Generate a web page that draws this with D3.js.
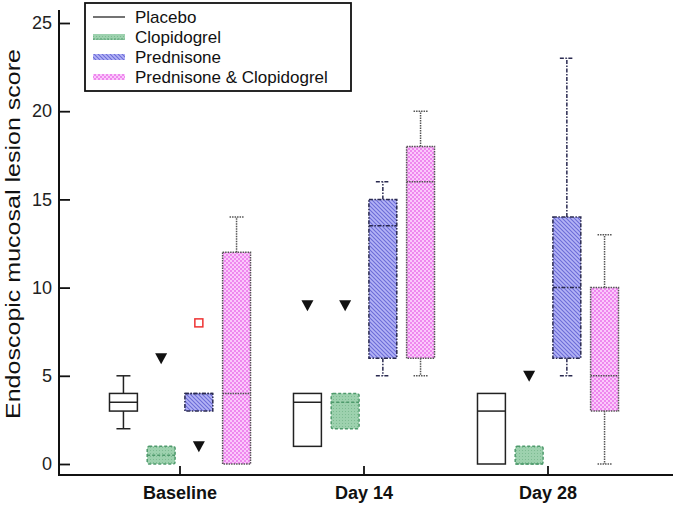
<!DOCTYPE html>
<html>
<head>
<meta charset="utf-8">
<script src="https://cdn.jsdelivr.net/npm/d3@7"></script>
<style>
  body { margin: 0; background: #fff; }
  svg { font-family: Arial, "Liberation Sans", sans-serif; }
</style>
</head>
<body>
<div id="chart"></div>
<script>
// categories
const groups = ['Baseline', 'Day 14', 'Day 28'];
const treatments = ['Placebo', 'Clopidogrel', 'Prednisone', 'Prednisone & Clopidogrel'];
const yTicks = [0, 5, 10, 15, 20, 25];

// [min, q1, median, q3, max] per group
const placebo = [[2, 3, 3.5, 4, 5], [1, 1, 3.5, 4, 4], [0, 0, 3, 4, 4]];
const clopidogrel = [[0, 0, 0.5, 1, 1], [2, 2, 3.5, 4, 4], [0, 0, 0, 1, 1]];
const prednisone = [[3, 3, 4, 4, 4], [5, 6, 13.5, 15, 16], [5, 6, 10, 14, 23]];
const predClop = [[0, 0, 4, 12, 14], [5, 6, 16, 18, 20], [0, 3, 5, 10, 13]];

// outliers: group, treatment index, value, marker
const outliers = [
  { g: 'Baseline', t: 1, v: 6, kind: 'tri' },
  { g: 'Baseline', t: 2, v: 1, kind: 'tri' },
  { g: 'Baseline', t: 2, v: 8, kind: 'sq' },
  { g: 'Day 14', t: 0, v: 9, kind: 'tri' },
  { g: 'Day 14', t: 1, v: 9, kind: 'tri' },
  { g: 'Day 28', t: 1, v: 5, kind: 'tri' }
];

const W = 673, H = 506;
const svg = d3.select('#chart').append('svg').attr('width', W).attr('height', H);

///////// Patterns //////////
const defs = svg.append('defs');
const pGreen = defs.append('pattern').attr('id', 'pat-green')
  .attr('width', 3).attr('height', 3).attr('patternUnits', 'userSpaceOnUse');
pGreen.append('rect').attr('width', 3).attr('height', 3).attr('fill', '#9dd1ae');
pGreen.append('rect').attr('width', 1).attr('height', 1).attr('fill', '#7dbb92');

const pBlue = defs.append('pattern').attr('id', 'pat-blue')
  .attr('width', 4).attr('height', 4).attr('patternUnits', 'userSpaceOnUse');
pBlue.append('rect').attr('width', 4).attr('height', 4).attr('fill', '#b4b4f6');
pBlue.append('path').attr('d', 'M-1,-1 L5,5 M-1,3 L1,5 M3,-1 L5,1')
  .attr('stroke', '#6c6cd8').attr('stroke-width', 1.1);

const pPink = defs.append('pattern').attr('id', 'pat-pink')
  .attr('width', 4).attr('height', 4).attr('patternUnits', 'userSpaceOnUse');
pPink.append('rect').attr('width', 4).attr('height', 4).attr('fill', '#fbc8fb');
pPink.append('rect').attr('width', 2).attr('height', 2).attr('fill', '#ee88ee');
pPink.append('rect').attr('x', 2).attr('y', 2).attr('width', 2).attr('height', 2).attr('fill', '#ee88ee');

const styles = [
  { fill: '#fff', stroke: '#222', dash: null, wdash: null, rx: 0 },
  { fill: 'url(#pat-green)', stroke: '#4f9a6c', dash: '3,2', wdash: '3,2', rx: 2 },
  { fill: 'url(#pat-blue)', stroke: '#2a2a50', dash: '4,1.5,1.5,1.5', wdash: '4,1.5,1.5,1.5', rx: 0 },
  { fill: 'url(#pat-pink)', stroke: '#555', dash: '1.5,1', wdash: '1.5,1', rx: 0 }
];
const seriesData = [placebo, clopidogrel, prednisone, predClop];

///////// Scales //////////
const y = d3.scaleLinear().domain([0, 25]).range([464, 23]);
const x0 = d3.scaleBand().domain(groups).range([88, 640]);
const x1 = d3.scaleBand().domain(d3.range(treatments.length))
  .range([0, x0.bandwidth()]).paddingInner(0.26).paddingOuter(0.57);

///////// Axes //////////
const yAxisG = svg.append('g').attr('transform', 'translate(59,0)')
  .call(d3.axisLeft(y).tickValues(yTicks).tickSize(-11).tickPadding(7));
yAxisG.select('.domain').remove();
yAxisG.selectAll('.tick line').attr('stroke', '#111').attr('stroke-width', 1.8);
yAxisG.selectAll('.tick text').attr('font-size', 18).attr('fill', '#222')
  .attr('font-family', 'Arial, "Liberation Sans", sans-serif');

const xAxisG = svg.append('g').attr('transform', 'translate(0,475)')
  .call(d3.axisBottom(x0).tickSize(-9).tickPadding(11));
xAxisG.select('.domain').remove();
xAxisG.selectAll('.tick line').attr('stroke', '#111').attr('stroke-width', 1.8);
xAxisG.selectAll('.tick text').attr('font-size', 18).attr('font-weight', 'bold').attr('fill', '#111')
  .attr('font-family', 'Arial, "Liberation Sans", sans-serif');

svg.append('path').attr('d', 'M59,10 V475 H673')
  .attr('fill', 'none').attr('stroke', '#111').attr('stroke-width', 2);

svg.append('text')
  .attr('transform', 'translate(20,' + 234 + ') rotate(-90)')
  .attr('text-anchor', 'middle')
  .attr('font-size', 21)
  .attr('textLength', 370).attr('lengthAdjust', 'spacingAndGlyphs')
  .attr('fill', '#111')
  .text('Endoscopic mucosal lesion score');

///////// Boxes //////////
const plot = svg.append('g');
seriesData.forEach((series, t) => {
  const st = styles[t];
  series.forEach((s, gi) => {
    const [mn, q1, md, q3, mx] = s;
    const bx = x0(groups[gi]) + x1(t);
    const bw = x1.bandwidth();
    const cx = bx + bw / 2;
    const g = plot.append('g');
    const whisker = (a, b) => {
      g.append('line').attr('x1', cx).attr('x2', cx).attr('y1', y(a)).attr('y2', y(b))
        .attr('stroke', st.stroke).attr('stroke-width', 1.5).attr('stroke-dasharray', st.wdash);
      g.append('line').attr('x1', cx - 7).attr('x2', cx + 7).attr('y1', y(b)).attr('y2', y(b))
        .attr('stroke', st.stroke).attr('stroke-width', 1.5).attr('stroke-dasharray', st.wdash);
    };
    if (mx > q3) whisker(q3, mx);
    if (mn < q1) whisker(q1, mn);
    g.append('rect').attr('x', bx).attr('y', y(q3)).attr('width', bw)
      .attr('height', y(q1) - y(q3)).attr('rx', st.rx)
      .attr('fill', st.fill).attr('stroke', st.stroke).attr('stroke-width', 1.5)
      .attr('stroke-dasharray', st.dash);
    g.append('line').attr('x1', bx).attr('x2', bx + bw).attr('y1', y(md)).attr('y2', y(md))
      .attr('stroke', st.stroke).attr('stroke-width', 1.5).attr('stroke-dasharray', st.dash);
  });
});

///////// Outliers //////////
outliers.forEach((o) => {
  const cx = x0(o.g) + x1(o.t) + x1.bandwidth() / 2;
  const cy = y(o.v);
  if (o.kind === 'tri') {
    plot.append('path')
      .attr('d', `M${cx - 6},${cy - 5} L${cx + 6},${cy - 5} L${cx},${cy + 6} Z`)
      .attr('fill', '#111');
  } else {
    plot.append('rect').attr('x', cx - 4).attr('y', cy - 4).attr('width', 8).attr('height', 8)
      .attr('fill', '#fff').attr('stroke', '#e33').attr('stroke-width', 1.5);
  }
});

///////// Legend //////////
const legend = svg.append('g');
legend.append('rect').attr('x', 85).attr('y', 3).attr('width', 266).attr('height', 88)
  .attr('fill', '#fff').attr('stroke', '#111').attr('stroke-width', 1.8);
treatments.forEach((name, i) => {
  const ly = 17 + i * 20;
  const st = styles[i];
  if (i === 0) {
    legend.append('line').attr('x1', 93).attr('x2', 125).attr('y1', ly).attr('y2', ly)
      .attr('stroke', '#444').attr('stroke-width', 1.5);
  } else {
    legend.append('rect').attr('x', 93).attr('y', ly - 3).attr('width', 32).attr('height', 6)
      .attr('fill', st.fill);
    if (i === 1) {
      legend.append('line').attr('x1', 93).attr('x2', 125).attr('y1', ly + 2).attr('y2', ly + 2)
        .attr('stroke', st.stroke).attr('stroke-dasharray', '2,1.5');
    }
  }
  legend.append('text').attr('x', 135).attr('y', ly).attr('dy', '0.35em')
    .attr('font-size', 17).attr('fill', '#111').text(name);
});
</script>
</body>
</html>
